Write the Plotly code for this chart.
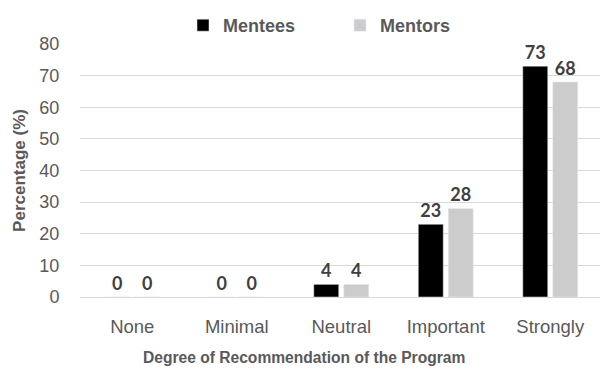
import plotly.graph_objects as go

categories = ["None", "Minimal", "Neutral", "Important", "Strongly"]
mentees = [0, 0, 4, 23, 73]
mentors = [0, 0, 4, 28, 68]
y_ticks = [0, 10, 20, 30, 40, 50, 60, 70, 80]

label_font = dict(family="Lato, Liberation Sans, Arial", size=18, color="#404040", weight="bold")
gray = "#595959"

fig = go.Figure()
fig.add_trace(go.Bar(
    name="Mentees", x=categories, y=mentees,
    marker=dict(color="#000000"),
    text=[str(v) for v in mentees], textposition="outside",
    textfont=label_font, cliponaxis=False,
))
fig.add_trace(go.Bar(
    name="Mentors", x=categories, y=mentors,
    marker=dict(color="#cccccc"),
    text=[str(v) for v in mentors], textposition="outside",
    textfont=label_font, cliponaxis=False,
))

fig.update_layout(
    width=600, height=369,
    margin=dict(l=80, r=0, t=44, b=72),
    paper_bgcolor="white", plot_bgcolor="white",
    barmode="group", bargap=0.426, bargroupgap=0.167,
    legend=dict(
        orientation="h", x=0.5, xanchor="center", y=1.0, yanchor="bottom",
        font=dict(family="Liberation Sans, Arial", size=18, color=gray, weight="bold"),
        itemwidth=30, traceorder="normal", entrywidth=112, entrywidthmode="pixels",
    ),
    xaxis=dict(
        range=[-0.5, 4.476],
        tickfont=dict(family="Liberation Sans, Arial", size=18.5, color=gray),
        ticks="outside", ticklen=13, tickcolor="rgba(0,0,0,0)",
        showline=False, showgrid=False,
    ),
    yaxis=dict(
        title=dict(text="Percentage (%)",
                   font=dict(family="Liberation Sans, Arial", size=17, color=gray, weight="bold"),
                   standoff=9),
        range=[0, 80], tickvals=y_ticks,
        tickfont=dict(family="Liberation Sans, Arial", size=18, color=gray),
        ticks="outside", ticklen=16, tickcolor="rgba(0,0,0,0)",
        showgrid=True, gridcolor="#d9d9d9", gridwidth=1,
        zeroline=True, zerolinecolor="#d9d9d9", zerolinewidth=1,
        showline=False,
    ),
    annotations=[dict(
        text="Degree of Recommendation of the Program",
        xref="paper", yref="paper", x=(304 - 80) / 520, y=0, yshift=-60,
        xanchor="center", yanchor="middle", showarrow=False,
        font=dict(family="Liberation Sans, Arial", size=15.6, color=gray, weight="bold"),
    )],
)

fig.write_html("out.html")
